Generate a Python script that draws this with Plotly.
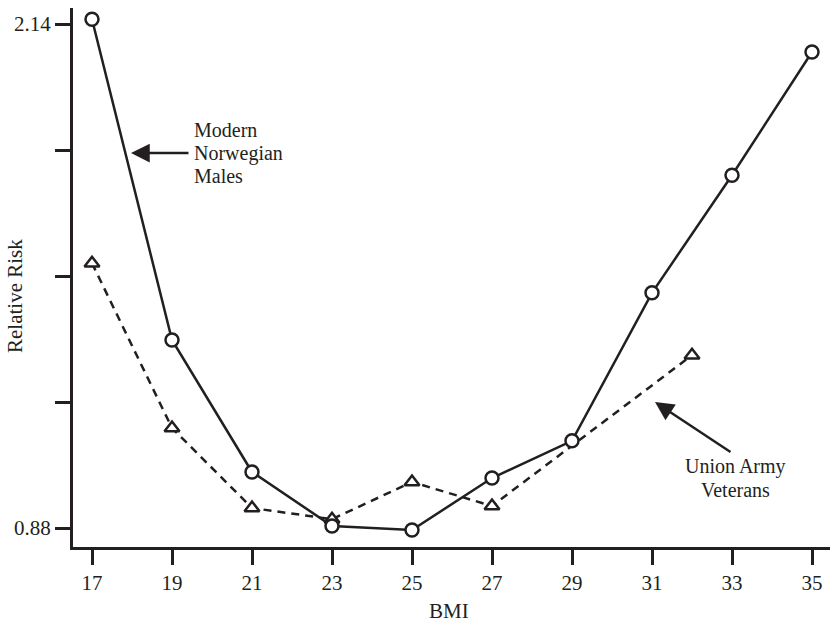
import plotly.graph_objects as go

# Data
bmi_norway = [17, 19, 21, 23, 25, 27, 29, 31, 33, 35]
rr_norway = [2.152, 1.35, 1.02, 0.885, 0.875, 1.005, 1.098, 1.468, 1.762, 2.07]

bmi_union = [17, 19, 21, 23, 25, 27, 32]
rr_union = [1.542, 1.13, 0.93, 0.902, 0.995, 0.935, 1.312]

x_ticks = [17, 19, 21, 23, 25, 27, 29, 31, 33, 35]
y_ticks = [0.88, 1.195, 1.51, 1.825, 2.14]
y_ticktext = ["0.88", "", "", "", "2.14"]

norway_label = ["Modern", "Norwegian", "Males"]
union_label = ["Union Army", "Veterans"]

INK = "#231f20"
FONT = "Liberation Serif, Times New Roman, serif"

fig = go.Figure()

fig.add_trace(go.Scatter(
    x=bmi_union, y=rr_union, mode="lines+markers",
    line=dict(color=INK, width=2.5, dash="8px,6px"),
    marker=dict(symbol="triangle-up", size=13, color="white",
                line=dict(color=INK, width=2.5)),
    showlegend=False, name="Union Army Veterans"))

fig.add_trace(go.Scatter(
    x=bmi_norway, y=rr_norway, mode="lines+markers",
    line=dict(color=INK, width=2.5),
    marker=dict(symbol="circle", size=13, color="white",
                line=dict(color=INK, width=2.5)),
    showlegend=False, name="Modern Norwegian Males"))

# Arrows
fig.add_annotation(x=17.975, y=1.8175, ax=19.45, ay=1.8175,
                   xref="x", yref="y", axref="x", ayref="y",
                   text="", showarrow=True, arrowhead=2, arrowsize=1.5,
                   arrowwidth=2.5, arrowcolor=INK)
fig.add_annotation(x=31.075, y=1.195, ax=33.0, ay=1.0675,
                   xref="x", yref="y", axref="x", ayref="y",
                   text="", showarrow=True, arrowhead=2, arrowsize=1.5,
                   arrowwidth=2.5, arrowcolor=INK)

# Labels (one annotation per line to control line spacing)
for txt, yv in zip(norway_label, [1.875, 1.8175, 1.76]):
    fig.add_annotation(x=19.5, y=yv, xref="x", yref="y", text=txt,
                       showarrow=False, xanchor="left", yanchor="middle",
                       font=dict(family=FONT, size=20, color=INK))
for txt, yv in zip(union_label, [1.035, 0.975]):
    fig.add_annotation(x=33.075, y=yv, xref="x", yref="y", text=txt,
                       showarrow=False, xanchor="center", yanchor="middle",
                       font=dict(family=FONT, size=20, color=INK))

# Axis titles
fig.add_annotation(x=0.4967, y=-0.1187, xref="paper", yref="paper", text="BMI",
                   showarrow=False, xanchor="center", yanchor="middle",
                   font=dict(family=FONT, size=21, color=INK))
fig.add_annotation(x=-0.0766, y=0.4657, xref="paper", yref="paper",
                   text="Relative Risk", textangle=-90,
                   showarrow=False, xanchor="center", yanchor="middle",
                   font=dict(family=FONT, size=21, color=INK))

fig.update_xaxes(
    range=[16.525, 35.45], tickvals=x_ticks, ticks="outside", ticklen=15,
    tickwidth=3, tickcolor=INK, showline=True, linewidth=3, linecolor=INK,
    showgrid=False, zeroline=False, automargin=False,
    tickfont=dict(family=FONT, size=21, color=INK))
fig.update_yaxes(
    range=[0.8325, 2.18], tickvals=y_ticks, ticktext=y_ticktext,
    ticks="outside", ticklen=15, tickwidth=3, tickcolor=INK,
    showline=True, linewidth=3, linecolor=INK,
    showgrid=False, zeroline=False, automargin=False,
    tickfont=dict(family=FONT, size=21, color=INK))

fig.update_layout(
    width=832, height=625,
    margin=dict(l=73, r=2, t=8, b=78),
    plot_bgcolor="white", paper_bgcolor="white",
    font=dict(family=FONT, color=INK))

fig.write_html("out.html", config={"displayModeBar": False},
               post_script="document.body.style.margin='0px';")
